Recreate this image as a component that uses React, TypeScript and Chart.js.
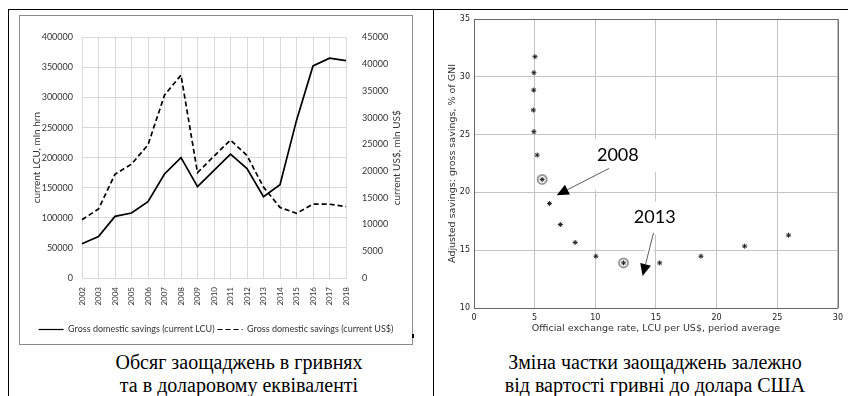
import React, { useEffect, useRef } from "react";
import { Chart, registerables } from "chart.js";

Chart.register(...registerables);

// ---- Left chart data ----
const years = ["2002", "2003", "2004", "2005", "2006", "2007", "2008", "2009", "2010", "2011", "2012", "2013", "2014", "2015", "2016", "2017", "2018"];
const savingsLCU = [57000, 69000, 102500, 108000, 127000, 173000, 200000, 152000, 179000, 206000, 182000, 135000, 155000, 262000, 352500, 365500, 361500];
const savingsUSD = [10900, 12900, 19400, 21300, 24900, 34200, 37950, 19700, 22800, 25800, 22900, 17000, 13200, 12100, 13800, 13800, 13350];
const lcuLabel = "Gross domestic savings (current LCU)";
const usdLabel = "Gross domestic savings (current US$)";

// ---- Right chart data ----
const exchangeRate = [5.03, 4.94, 4.92, 4.89, 4.94, 5.21, 5.62, 6.22, 7.12, 8.34, 10.05, 12.33, 15.31, 18.71, 22.31, 25.93];
const savingsGNI = [31.74, 30.35, 28.85, 27.12, 25.25, 23.23, 21.12, 19.04, 17.22, 15.67, 14.48, 13.9, 13.9, 14.48, 15.35, 16.3];
const highlightRate = [5.62, 12.33];
const highlightGNI = [21.12, 13.9];
const noteText = ["2008", "2013"];
const noteX = [11.86, 14.9];
const noteY = [23.23, 17.83];
const arrowFromX = [11.13, 14.8];
const arrowFromY = [22.07, 16.5];
const arrowToX = [6.82, 13.9];
const arrowToY = [19.76, 12.77];

const captionLeft = ["Обсяг заощаджень в гривнях", "та в доларовому еквіваленті"];
const captionRight = ["Зміна частки заощаджень залежно", "від вартості гривні до долара США"];

const excelFont = "Lato, 'Open Sans', sans-serif";
const textGray = "#333333";
const gridGray = "#d9d9d9";

const rightTitlePlugin = {
  id: "rightTitle",
  afterDraw(chart: any) {
    const { ctx, chartArea } = chart;
    ctx.save();
    ctx.translate(chartArea.right + 51, (chartArea.top + chartArea.bottom) / 2);
    ctx.rotate(-Math.PI / 2);
    ctx.font = `10px ${excelFont}`;
    ctx.fillStyle = textGray;
    ctx.textAlign = "center";
    ctx.textBaseline = "middle";
    ctx.fillText("current US$, mln US$", 0, 0);
    ctx.restore();
  },
};

const notesPlugin = {
  id: "notes",
  beforeDatasetsDraw(chart: any) {
    const { ctx } = chart;
    const x = chart.scales.x;
    const y = chart.scales.y;
    ctx.save();
    ctx.fillStyle = "#ffffff";
    ctx.font = "18px Lato, sans-serif";
    noteText.forEach((t, i) => {
      const cx = x.getPixelForValue(noteX[i]);
      const cy = y.getPixelForValue(noteY[i]);
      const w = ctx.measureText(t).width;
      ctx.fillRect(cx - w / 2 - 20, cy - 16, w + 40, 33);
      const x1 = x.getPixelForValue(arrowFromX[i]);
      const y1 = y.getPixelForValue(arrowFromY[i]);
      const x2 = x.getPixelForValue(arrowToX[i]);
      const y2 = y.getPixelForValue(arrowToY[i]);
      const len = Math.hypot(x2 - x1, y2 - y1);
      const bx = x2 - ((x2 - x1) / len) * 11;
      const by = y2 - ((y2 - y1) / len) * 11;
      ctx.fillRect(Math.min(x1, bx), Math.min(y1, by), Math.abs(bx - x1), Math.abs(by - y1));
    });
    ctx.restore();
  },
  afterDatasetsDraw(chart: any) {
    const { ctx, chartArea } = chart;
    const x = chart.scales.x;
    const y = chart.scales.y;
    ctx.save();
    noteText.forEach((t, i) => {
      const cx = x.getPixelForValue(noteX[i]);
      const cy = y.getPixelForValue(noteY[i]);
      ctx.font = "18px Lato, sans-serif";
      ctx.fillStyle = "#000";
      ctx.textAlign = "center";
      ctx.textBaseline = "middle";
      ctx.fillText(t, cx, cy);
      const x1 = x.getPixelForValue(arrowFromX[i]);
      const y1 = y.getPixelForValue(arrowFromY[i]);
      const x2 = x.getPixelForValue(arrowToX[i]);
      const y2 = y.getPixelForValue(arrowToY[i]);
      const len = Math.hypot(x2 - x1, y2 - y1);
      const ux = (x2 - x1) / len;
      const uy = (y2 - y1) / len;
      const headL = 12;
      const headW = 5.5;
      const bx = x2 - ux * headL;
      const by = y2 - uy * headL;
      ctx.strokeStyle = "#333";
      ctx.lineWidth = 0.8;
      ctx.beginPath();
      ctx.moveTo(x1, y1);
      ctx.lineTo(bx, by);
      ctx.stroke();
      ctx.fillStyle = "#000";
      ctx.beginPath();
      ctx.moveTo(x2, y2);
      ctx.lineTo(bx - uy * headW, by + ux * headW);
      ctx.lineTo(bx + uy * headW, by - ux * headW);
      ctx.closePath();
      ctx.fill();
    });
    ctx.strokeStyle = "#666";
    ctx.lineWidth = 1;
    ctx.beginPath();
    ctx.moveTo(chartArea.left, chartArea.top + 0.5);
    ctx.lineTo(chartArea.right + 0.5, chartArea.top + 0.5);
    ctx.lineTo(chartArea.right + 0.5, chartArea.bottom);
    ctx.stroke();
    ctx.restore();
  },
};

function SavingsLineChart() {
  const ref = useRef<HTMLCanvasElement>(null);
  useEffect(() => {
    if (!ref.current) return;
    const chart = new Chart(ref.current, {
      type: "line",
      data: {
        labels: years,
        datasets: [
          {
            label: lcuLabel,
            data: savingsLCU,
            yAxisID: "y",
            borderColor: "#000",
            backgroundColor: "#000",
            borderWidth: 1.7,
            pointRadius: 0,
            tension: 0,
          },
          {
            label: usdLabel,
            data: savingsUSD,
            yAxisID: "y1",
            borderColor: "#000",
            backgroundColor: "#000",
            borderWidth: 1.7,
            borderDash: [5, 3],
            pointRadius: 0,
            tension: 0,
          },
        ],
      },
      options: {
        responsive: false,
        animation: false,
        layout: { padding: { top: 12, left: 0, right: 0, bottom: 0 } },
        plugins: {
          legend: {
            position: "bottom",
            labels: {
              usePointStyle: true,
              pointStyle: "line",
              pointStyleWidth: 25,
              padding: 3,
              color: textGray,
              font: { family: excelFont, size: 9 },
              generateLabels: (c: any) => {
                const items = (Chart as any).defaults.plugins.legend.labels.generateLabels(c);
                return items.map((it: any) => {
                  const ds = c.data.datasets[it.datasetIndex];
                  return {
                    ...it,
                    pointStyle: "line",
                    lineDash: ds.borderDash || [],
                    lineWidth: 1.2,
                    strokeStyle: "#000",
                    fillStyle: "#000",
                  };
                });
              },
            },
          },
          tooltip: { enabled: false },
        },
        scales: {
          x: {
            offset: false,
            grid: { color: gridGray, offset: false, drawTicks: false },
            border: { color: gridGray },
            ticks: {
              minRotation: 90,
              maxRotation: 90,
              autoSkip: false,
              padding: 9,
              color: textGray,
              font: { family: excelFont, size: 8 },
            },
            afterFit: (s: any) => {
              s.height = 44;
            },
          },
          y: {
            position: "left",
            min: 0,
            max: 400000,
            grid: { color: gridGray, drawTicks: false },
            border: { display: false },
            ticks: {
              stepSize: 50000,
              padding: 9,
              color: textGray,
              font: { family: excelFont, size: 9 },
              callback: (v: any) => String(v),
            },
            title: {
              display: true,
              text: "current LCU, mln hrn",
              color: textGray,
              font: { family: excelFont, size: 10 },
              padding: { top: 11, bottom: 0 },
            },
            afterFit: (s: any) => {
              s.width = 62;
            },
          },
          y1: {
            position: "right",
            min: 0,
            max: 45000,
            grid: { drawOnChartArea: false, drawTicks: false },
            border: { display: false },
            ticks: {
              stepSize: 5000,
              padding: 16,
              color: textGray,
              font: { family: excelFont, size: 9 },
              callback: (v: any) => String(v),
            },
            afterFit: (s: any) => {
              s.width = 66;
            },
          },
        },
      },
      plugins: [rightTitlePlugin],
    } as any);
    return () => chart.destroy();
  }, []);
  return <canvas ref={ref} width={392} height={328} style={{ display: "block" }} />;
}

function SavingsScatterChart() {
  const ref = useRef<HTMLCanvasElement>(null);
  useEffect(() => {
    if (!ref.current) return;
    const stars = exchangeRate.map((r, i) => ({ x: r, y: savingsGNI[i] }));
    const rings = highlightRate.map((r, i) => ({ x: r, y: highlightGNI[i] }));
    const tickFont = { family: "'DejaVu Sans', sans-serif", size: 8 };
    const titleFont = { family: "'DejaVu Sans', sans-serif", size: 9.5 };
    const chart = new Chart(ref.current, {
      type: "scatter",
      data: {
        datasets: [
          {
            label: "highlight",
            data: rings,
            pointStyle: "circle",
            pointRadius: 4.5,
            pointBorderWidth: 2,
            pointBorderColor: "#9a9a9a",
            pointBackgroundColor: "rgba(255,255,255,0)",
            order: 1,
          },
          {
            label: "savings",
            data: stars,
            pointStyle: "star",
            pointRadius: 2.5,
            pointBorderWidth: 1,
            pointBorderColor: "#222",
            pointBackgroundColor: "#222",
            order: 0,
          },
        ],
      },
      options: {
        responsive: false,
        animation: false,
        layout: { padding: { top: 9, right: 6, left: 0, bottom: 0 } },
        plugins: { legend: { display: false }, tooltip: { enabled: false } },
        scales: {
          x: {
            type: "linear",
            min: 0,
            max: 30,
            grid: { color: "#c4c4c4", drawTicks: false },
            border: { color: "#666" },
            ticks: { stepSize: 5, padding: 5, color: "#222", font: tickFont },
            title: {
              display: true,
              text: "Official exchange rate, LCU per US$, period average",
              color: "#333",
              font: titleFont,
              padding: { top: 0, bottom: 7.3 },
            },
            afterFit: (s: any) => {
              s.height = 34;
            },
          },
          y: {
            type: "linear",
            min: 10,
            max: 35,
            grid: { color: "#c4c4c4", drawTicks: false },
            border: { color: "#666" },
            ticks: { stepSize: 5, padding: 4, color: "#222", font: tickFont },
            title: {
              display: true,
              text: "Adjusted savings: gross savings, % of GNI",
              color: "#333",
              font: titleFont,
              padding: { top: 11.3, bottom: 0 },
            },
            afterFit: (s: any) => {
              s.width = 38;
            },
          },
        },
      },
      plugins: [notesPlugin],
    } as any);
    return () => chart.destroy();
  }, []);
  return <canvas ref={ref} width={412} height={332} style={{ display: "block" }} />;
}

const captionStyle: React.CSSProperties = {
  position: "absolute",
  textAlign: "center",
  fontFamily: "'Liberation Serif', 'Times New Roman', serif",
  fontSize: 20,
  lineHeight: "23px",
  color: "#000",
  whiteSpace: "nowrap",
};

export default function App() {
  return (
    <div
      style={{
        position: "fixed",
        left: 0,
        top: 0,
        width: 848,
        height: 396,
        background: "#fff",
        overflow: "hidden",
      }}
    >
      <div style={{ position: "absolute", left: 8, top: 9, width: 840, height: 1, background: "#000" }} />
      <div style={{ position: "absolute", left: 8, top: 9, width: 1, height: 387, background: "#000" }} />
      <div style={{ position: "absolute", left: 433, top: 9, width: 1, height: 387, background: "#000" }} />

      <div
        style={{
          position: "absolute",
          left: 19,
          top: 15,
          width: 394,
          height: 330,
          border: "1px solid #8c8c8c",
          boxSizing: "border-box",
        }}
      >
        <SavingsLineChart />
      </div>
      <div style={{ position: "absolute", left: 412, top: 334, width: 2, height: 4, background: "#000" }} />

      <div style={{ position: "absolute", left: 436, top: 10 }}>
        <SavingsScatterChart />
      </div>

      <div style={{ ...captionStyle, left: 39, width: 400, top: 351 }}>
        {captionLeft[0]}
        <br />
        {captionLeft[1]}
      </div>
      <div style={{ ...captionStyle, left: 455, width: 400, top: 351 }}>
        {captionRight[0]}
        <br />
        {captionRight[1]}
      </div>
    </div>
  );
}
